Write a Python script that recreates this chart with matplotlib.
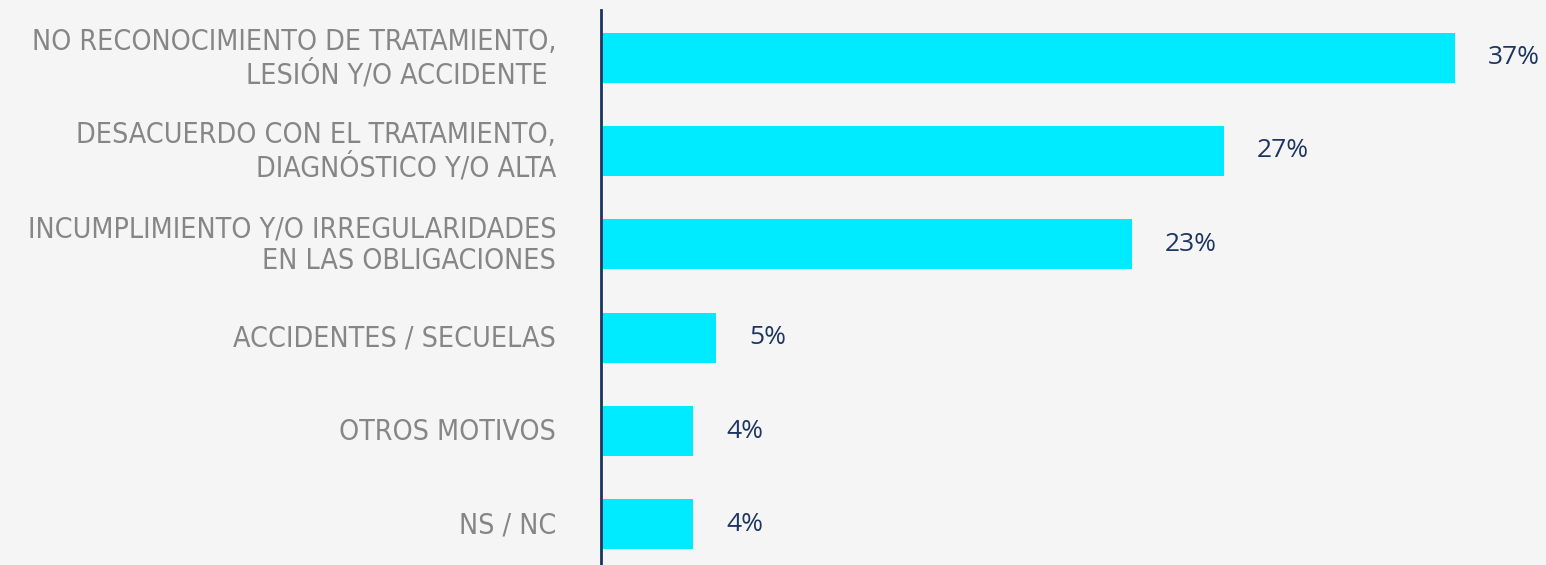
import matplotlib
matplotlib.use('Agg')
import matplotlib.pyplot as plt

categories = [
    'NO RECONOCIMIENTO DE TRATAMIENTO,\nLESIÓN Y/O ACCIDENTE ',
    'DESACUERDO CON EL TRATAMIENTO,\nDIAGNÓSTICO Y/O ALTA',
    'INCUMPLIMIENTO Y/O IRREGULARIDADES\nEN LAS OBLIGACIONES',
    'ACCIDENTES / SECUELAS',
    'OTROS MOTIVOS',
    'NS / NC',
]
values = [37, 27, 23, 5, 4, 4]
value_labels = ['37%', '27%', '23%', '5%', '4%', '4%']

bg_color = '#f5f5f5'
bar_color = '#00ebff'
navy = '#1d3560'
gray = '#868686'

fig = plt.figure(figsize=(15.46, 5.65), dpi=100, facecolor=bg_color)
# axis line sits at x=601px, plot runs to the right edge
ax = fig.add_axes([601 / 1546, 0, 945 / 1546, 555 / 565])
ax.set_facecolor(bg_color)

y_pos = list(range(len(categories)))
ax.barh(y_pos, values, height=0.535, color=bar_color)

ax.set_xlim(0, 945 / 23.08)
ax.set_ylim(5.434, -0.509)

# value labels right of the bars
for y, v, lab in zip(y_pos, values, value_labels):
    ax.annotate(lab, (v, y), xytext=(33, 0), textcoords='offset pixels',
                ha='left', va='center', fontsize=19, color=navy,
                family='Open Sans')

# category labels left of the axis line
for y, cat in zip(y_pos, categories):
    ax.annotate(cat, (0, y), xytext=(-45, -1), textcoords='offset pixels',
                ha='right', va='center', fontsize=20.5, color=gray,
                family='DejaVu Sans', fontstretch='condensed',
                linespacing=1.19, annotation_clip=False)

ax.set_xticks([])
ax.set_yticks([])
for side in ['top', 'right', 'bottom']:
    ax.spines[side].set_visible(False)
ax.spines['left'].set_color(navy)
ax.spines['left'].set_linewidth(2)

fig.savefig('out.png', dpi=100, facecolor=bg_color)
